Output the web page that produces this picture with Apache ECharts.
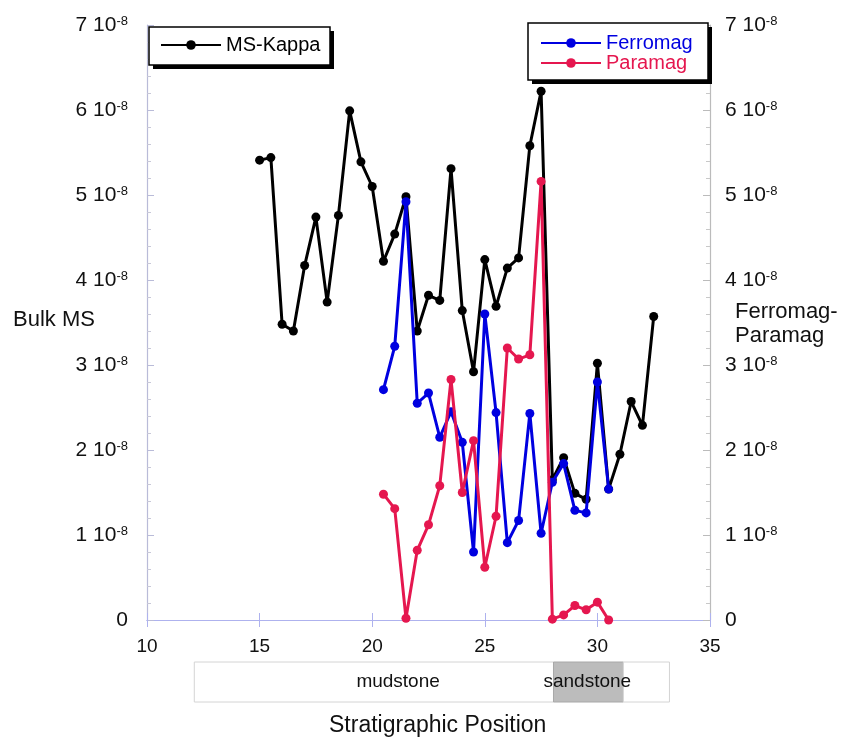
<!DOCTYPE html>
<html>
<head>
<meta charset="utf-8">
<script src="https://cdn.jsdelivr.net/npm/echarts@6/dist/echarts.min.js"></script>
<style>
html, body { margin: 0; padding: 0; background: #fff; }
#main { width: 844px; height: 739px; }
</style>
</head>
<body>
<div id="main"></div>
<script>
(function () {
    var myChart = echarts.init(document.getElementById('main'));

    // stratigraphic position of the samples
    var kappaPos = [15, 15.5, 16, 16.5, 17, 17.5, 18, 18.5, 19, 19.5, 20, 20.5, 21, 21.5, 22, 22.5, 23, 23.5,
        24, 24.5, 25, 25.5, 26, 26.5, 27, 27.5, 28, 28.5, 29, 29.5, 30, 30.5, 31, 31.5, 32, 32.5];
    // bulk MS, units of 10^-8
    var kappaVal = [5.41, 5.44, 3.48, 3.40, 4.17, 4.74, 3.74, 4.76, 5.99, 5.39, 5.10, 4.22, 4.54, 4.98, 3.40, 3.82, 3.76, 5.31,
        3.64, 2.92, 4.24, 3.69, 4.14, 4.26, 5.58, 6.22, 1.65, 1.91, 1.49, 1.42, 3.02, 1.54, 1.95, 2.57, 2.29, 3.57];

    var magPos = [20.5, 21, 21.5, 22, 22.5, 23, 23.5, 24, 24.5, 25, 25.5, 26, 26.5, 27, 27.5, 28, 28.5, 29, 29.5, 30, 30.5];
    var ferroVal = [2.71, 3.22, 4.92, 2.55, 2.67, 2.15, 2.45, 2.09, 0.80, 3.60, 2.44, 0.91, 1.17, 2.43, 1.02, 1.62, 1.84, 1.29, 1.26, 2.80, 1.54];
    var paraVal = [1.48, 1.31, 0.02, 0.82, 1.12, 1.58, 2.83, 1.50, 2.11, 0.62, 1.22, 3.20, 3.07, 3.12, 5.16, 0.01, 0.06, 0.17, 0.12, 0.21, 0.00];

    // lithology strip
    var bedName = ['mudstone', 'sandstone', ''];
    var bedFrom = [12.1, 28.05, 31.15];
    var bedTo = [28.05, 31.15, 33.2];
    var bedLabelAt = [21.15, 29.55, 32.2];

    function zip(xs, ys) {
        return xs.map(function (x, i) { return [x, ys[i]]; });
    }

    var font = 'Liberation Sans, Arial, Helvetica, sans-serif';
    var frameColor = '#aeb2ee';
    var blue = '#0000e0';
    var red = '#e5174f';

    var tickRich = {
        n: { fontSize: 21, fontFamily: font, color: '#111' },
        s: { fontSize: 13, fontFamily: font, color: '#111', verticalAlign: 'top', lineHeight: 13 }
    };
    function tickFmt(v) {
        return v === 0 ? '{n|0}' : '{n|' + v + ' 10}{s|-8}';
    }

    // legend frame with hard drop shadow
    function frame(x, y, w, h) {
        return [
            { type: 'rect', z: 10, shape: { x: x + 4, y: y + 4, width: w, height: h }, style: { fill: '#000' } },
            { type: 'rect', z: 11, shape: { x: x, y: y, width: w, height: h }, style: { fill: '#fff', stroke: '#000', lineWidth: 1.5 } }
        ];
    }

    var option = {
        backgroundColor: '#fff',
        animation: false,
        grid: [
            { left: 147, right: 134, top: 25, bottom: 119 },
            { left: 147, right: 134, top: 662, height: 40 }
        ],
        legend: [
            {
                data: ['MS-Kappa'],
                left: 160, top: 34, z: 20,
                itemWidth: 60, itemHeight: 12,
                padding: 0,
                textStyle: { fontSize: 20, fontFamily: font, color: '#000', lineHeight: 22 }
            },
            {
                data: [
                    { name: 'Ferromag', textStyle: { color: blue } },
                    { name: 'Paramag', textStyle: { color: red } }
                ],
                orient: 'vertical',
                left: 540, top: 33, z: 20,
                itemWidth: 60, itemHeight: 12, itemGap: 0,
                padding: 0,
                textStyle: { fontSize: 20, fontFamily: font, lineHeight: 18 }
            }
        ],
        xAxis: [
            {
                gridIndex: 0, type: 'value', min: 10, max: 35, interval: 5, position: 'bottom',
                axisLine: { lineStyle: { color: frameColor, width: 1.2 } },
                axisTick: { inside: true, length: 7, lineStyle: { color: frameColor } },
                axisLabel: { fontSize: 19, fontFamily: font, color: '#111', margin: 17 },
                splitLine: { show: false }
            },
            {
                gridIndex: 0, type: 'value', min: 10, max: 35, interval: 5, position: 'top',
                axisLine: { lineStyle: { color: frameColor, width: 1.2 } },
                axisTick: { inside: true, length: 7, lineStyle: { color: frameColor } },
                axisLabel: { show: false },
                splitLine: { show: false }
            },
            {
                gridIndex: 1, type: 'value', min: 10, max: 35, show: false
            }
        ],
        yAxis: [
            {
                gridIndex: 0, type: 'value', min: 0, max: 7, interval: 1, position: 'left',
                axisLine: { show: true, lineStyle: { color: '#b9bbd8', width: 1.2 } },
                axisTick: { inside: true, length: 7, lineStyle: { color: '#b9bbd8' } },
                minorTick: { show: true, splitNumber: 5, length: 4, lineStyle: { color: '#c8c8d8' } },
                axisLabel: { formatter: tickFmt, rich: tickRich, margin: 19 },
                splitLine: { show: false }
            },
            {
                gridIndex: 0, type: 'value', min: 0, max: 7, interval: 1, position: 'right',
                axisLine: { show: true, lineStyle: { color: '#bbbbbb', width: 1.2 } },
                axisTick: { inside: true, length: 7, lineStyle: { color: '#bbbbbb' } },
                minorTick: { show: true, splitNumber: 5, length: 4, lineStyle: { color: '#c8c8c8' } },
                axisLabel: { formatter: tickFmt, rich: tickRich, margin: 15 },
                splitLine: { show: false }
            },
            {
                gridIndex: 1, type: 'value', min: 0, max: 1, show: false
            }
        ],
        graphic: frame(149, 27, 181, 38).concat(frame(528, 23, 180, 57)).concat([
            { type: 'text', left: 13, top: 309, style: { text: 'Bulk MS', font: '22px ' + font, fill: '#111' } },
            { type: 'text', left: 735, top: 300, style: { text: 'Ferromag-\nParamag', font: '22px ' + font, fill: '#111', align: 'center', lineHeight: 24 } },
            { type: 'text', left: 329, top: 714, style: { text: 'Stratigraphic Position', font: '23px ' + font, fill: '#111' } }
        ]),
        series: [
            {
                name: 'MS-Kappa', type: 'line', xAxisIndex: 0, yAxisIndex: 0,
                data: zip(kappaPos, kappaVal),
                symbol: 'circle', symbolSize: 9,
                lineStyle: { color: '#000', width: 3 },
                itemStyle: { color: '#000' },
                z: 3
            },
            {
                name: 'Ferromag', type: 'line', xAxisIndex: 0, yAxisIndex: 1,
                data: zip(magPos, ferroVal),
                symbol: 'circle', symbolSize: 9,
                lineStyle: { color: blue, width: 3 },
                itemStyle: { color: blue },
                z: 4
            },
            {
                name: 'Paramag', type: 'line', xAxisIndex: 0, yAxisIndex: 1,
                data: zip(magPos, paraVal),
                symbol: 'circle', symbolSize: 9,
                lineStyle: { color: red, width: 3 },
                itemStyle: { color: red },
                z: 5
            },
            {
                type: 'custom', xAxisIndex: 2, yAxisIndex: 2,
                data: bedName.map(function (n, i) { return [bedFrom[i], bedTo[i], bedLabelAt[i]]; }),
                renderItem: function (params, api) {
                    var p0 = api.coord([api.value(0), 1]);
                    var p1 = api.coord([api.value(1), 0]);
                    var name = bedName[params.dataIndex];
                    var lab = api.coord([api.value(2), 0.5]);
                    var sand = name === 'sandstone';
                    return {
                        type: 'group',
                        children: [
                            {
                                type: 'rect', z2: 1,
                                shape: { x: p0[0], y: p0[1], width: p1[0] - p0[0], height: p1[1] - p0[1] },
                                style: { fill: sand ? '#bcbcbc' : '#fff', stroke: sand ? '#a8a8a8' : '#d4d4d4', lineWidth: 1 }
                            },
                            {
                                type: 'text', z2: 50,
                                style: { text: name, x: lab[0], y: lab[1], align: 'center', verticalAlign: 'middle', font: '19px ' + font, fill: '#111' }
                            }
                        ]
                    };
                }
            }
        ]
    };

    myChart.setOption(option);
})();
</script>
</body>
</html>
